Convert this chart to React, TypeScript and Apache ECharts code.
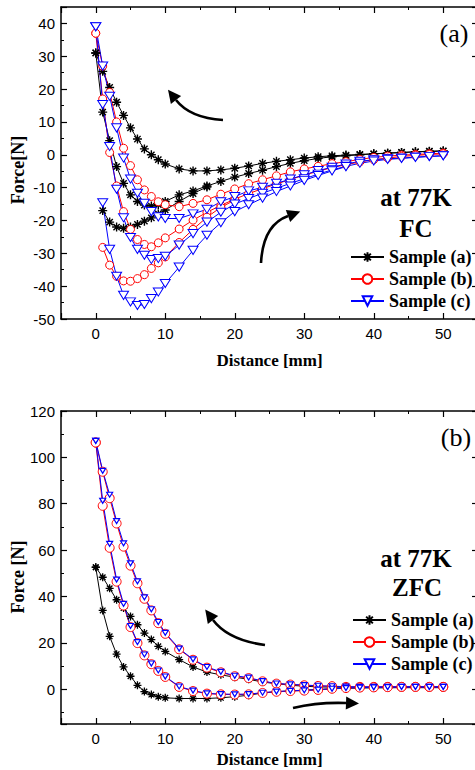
import React, { useEffect, useRef } from "react";
import * as echarts from "echarts";

// ---------- data ----------
const X = [0, 1, 2, 3, 4, 5, 6, 7, 8, 9, 10, 12, 14, 16, 18, 20, 22, 24, 26, 28, 30, 32, 34, 36, 38, 40, 42, 44, 46, 48, 50];

// FC (field cooled)
const fcA_app = [31, 25.4, 20.5, 16, 12, 8.2, 4.8, 1.8, 0, -1.5, -2.8, -4.3, -4.9, -4.9, -4.6, -4.1, -3.4, -2.6, -2.0, -1.5, -1.0, -0.6, -0.3, -0.1, 0.1, 0.3, 0.5, 0.7, 0.9, 1.1, 1.2];
const fcA_wd = [31, 13, 4.3, -3.6, -8.7, -12.2, -14.2, -15.3, -15.6, -15.2, -14.2, -12.2, -11, -9.5, -8.1, -6.8, -5.7, -4.7, -3.6, -2.6, -1.8, -1.1, -0.6, -0.3, 0, 0.3, 0.5, 0.7, 0.9, 1.0, 1.1];
const X_lowA = [1, 2, 3, 4, 5, 6, 7, 8, 9, 10, 12, 14, 16];
const fcA_low = [-17, -20.5, -22, -22.4, -22, -21.2, -20.2, -19.2, -18, -16.8, -14.2, -11.8, -9.8];

const fcB_app = [37, 27, 19, 10, 2, -3.3, -7.6, -10.7, -12.7, -14.3, -15.2, -15.8, -14.8, -13.7, -12, -10.4, -8.8, -7.6, -6.4, -5.2, -4.3, -3.5, -2.7, -2.1, -1.4, -0.8, -0.4, -0.1, 0.1, 0.3, 0.5];
const fcB_wd = [37, 17, 0.7, -9.5, -17.3, -22.7, -25.8, -27.3, -28, -26.8, -25.3, -22.6, -19.9, -17.5, -15.4, -13.5, -11.8, -10.3, -8.9, -7.5, -6.2, -5, -3.9, -3, -2.2, -1.5, -1, -0.5, -0.2, 0.1, 0.3];
const X_lowB = [1, 2, 3, 4, 5, 6, 7, 8, 9, 10, 12, 14, 16, 18, 20];
const fcB_low = [-28.2, -33.6, -37, -38.4, -38.5, -37.7, -36.5, -34.6, -32.9, -31.1, -26.7, -22.7, -19, -16, -13.8];

const fcC_app = [39, 27, 17.8, 8.2, -1, -7.4, -11.7, -14.8, -17.3, -18.9, -19.4, -19.4, -18, -16.6, -14.3, -12.7, -11, -9.9, -8.7, -7.4, -6.1, -4.8, -3.8, -2.8, -2, -1.5, -1.2, -1, -0.7, -0.5, -0.3];
const fcC_wd = [39, 15.3, 2.5, -10.5, -19.2, -25.2, -28.8, -30.6, -31.9, -31.6, -30.9, -27.5, -24, -20.5, -17.5, -15, -13.3, -11.7, -10.2, -8.7, -7.3, -5.9, -4.6, -3.5, -2.6, -1.9, -1.4, -1.1, -0.8, -0.5, -0.3];
const X_lowC = [1, 2, 3, 4, 5, 6, 7, 8, 9, 10, 12, 14, 16, 18, 20, 22, 24, 26, 28, 30, 32, 34, 36];
const fcC_low = [-14.6, -28.8, -37, -42.8, -44.8, -45.9, -45.6, -43.8, -41.8, -39.2, -34.2, -29.1, -24.5, -20.7, -17.3, -15.2, -13.2, -11.2, -9.5, -7.8, -6.3, -4.9, -3.6];

// ZFC (zero field cooled)
const zfcA_app = [52.6, 48.3, 43.5, 38.6, 35, 31.4, 27.8, 24.2, 21.4, 18.5, 16.3, 12.8, 9.6, 7.4, 6.2, 5.2, 4.3, 3.1, 2.4, 1.7, 1.3, 1.0, 0.9, 0.8, 0.8, 0.8, 0.8, 0.7, 0.7, 0.7, 0.7];
const zfcA_wd = [52.6, 34, 22.8, 15.1, 9.6, 5.6, 1.7, -1.0, -2.3, -3.2, -3.7, -4, -4, -4, -3.7, -3.2, -2.6, -1.6, -1.1, -0.7, -0.4, -0.1, 0.2, 0.4, 0.5, 0.6, 0.6, 0.7, 0.7, 0.7, 0.7];
const zfcB_app = [106.4, 93.8, 82.4, 71.5, 61.5, 53.3, 45.7, 39, 34, 28.5, 23.9, 17.2, 12.7, 9.3, 7.3, 5.6, 4.8, 3.4, 2.4, 2, 1.7, 1.4, 1.3, 1.0, 1.0, 1.0, 1.0, 1.0, 1.0, 1.0, 1.0];
const zfcB_wd = [106.4, 79.1, 61, 46.4, 36.1, 26.8, 19.9, 14.6, 10.8, 7.9, 5.3, 1, -0.8, -1.9, -2.2, -2.3, -2.2, -1.6, -1.1, -0.8, -0.6, -0.3, 0.2, 0.5, 0.7, 0.8, 0.9, 1.0, 1.0, 1.0, 1.0];
const zfcC_app = [107.1, 94.2, 83.9, 72.5, 62.9, 54.3, 46.5, 39.6, 34.5, 29, 24.3, 17.5, 12.9, 9.6, 7.5, 5.8, 5.0, 3.5, 2.5, 2.1, 1.8, 1.5, 1.3, 1.1, 1.0, 1.0, 1.0, 1.0, 1.0, 1.0, 1.0];
const zfcC_wd = [107.1, 81.3, 62.7, 47.3, 36.8, 27.3, 20.3, 15, 11.1, 8.1, 5.5, 1.2, -0.6, -1.8, -2.1, -2.2, -2.1, -1.5, -1, -0.7, -0.5, -0.2, 0.2, 0.5, 0.7, 0.8, 0.9, 1.0, 1.0, 1.0, 1.0];

const NAMES = ["Sample (a)", "Sample (b)", "Sample (c)"];
const X_TICK_LABELS = ["0", "10", "20", "30", "40", "50"];

// ---------- styles ----------
const ASTERISK = "path://M5,0L5,10M0,5L10,5M1.5,1.5L8.5,8.5M8.5,1.5L1.5,8.5";
const TRI_DOWN = "path://M0,0L10,0L5,9Z";
const BLACK = "#000000";
const RED = "#ff0000";
const BLUE = "#0000ff";

type Sty = { color: string; symbol: string; size: number | number[]; fill: string; bw: number };
const STY_FC: Sty[] = [
  { color: BLACK, symbol: ASTERISK, size: 9, fill: BLACK, bw: 1.4 },
  { color: RED, symbol: "circle", size: 8, fill: "#ffffff", bw: 1 },
  { color: BLUE, symbol: TRI_DOWN, size: [10, 9], fill: "#ffffff", bw: 1 },
];
const STY_ZFC: Sty[] = [
  { color: BLACK, symbol: ASTERISK, size: 8, fill: BLACK, bw: 1.3 },
  { color: RED, symbol: "circle", size: 9, fill: "#ffffff", bw: 1 },
  { color: BLUE, symbol: TRI_DOWN, size: [6, 5.5], fill: "#ffffff", bw: 1.2 },
];

function mk(name: string, xs: number[], ys: number[], s: Sty, g: number) {
  return {
    type: "line",
    name,
    xAxisIndex: g * 2,
    yAxisIndex: g * 2,
    data: xs.map((x, i) => [x, ys[i]]),
    symbol: s.symbol,
    symbolSize: s.size,
    symbolKeepAspect: true,
    showAllSymbol: true,
    lineStyle: { color: s.color, width: 1 },
    itemStyle: { color: s.fill, borderColor: s.color, borderWidth: s.bw },
    emphasis: { disabled: true },
    z: 2,
  };
}

const TICK_FONT = { fontFamily: "Liberation Sans", fontSize: 15, color: "#000" };

function xAxes(g: number) {
  const base = {
    gridIndex: g,
    type: "value",
    min: -5,
    max: 55,
    splitNumber: 6,
    splitLine: { show: false },
    axisLine: { onZero: false, lineStyle: { color: "#000", width: 1.5 } },
    axisTick: { inside: true, length: 6, lineStyle: { color: "#000", width: 1.2 } },
    minorTick: { show: true, splitNumber: 2, length: 3, lineStyle: { color: "#000", width: 1 } },
  };
  return [
    {
      ...base,
      position: "bottom",
      name: "Distance [mm]",
      nameLocation: "middle",
      nameGap: g === 0 ? 33 : 27,
      nameTextStyle: { fontFamily: "Liberation Serif", fontWeight: "bold", fontSize: 17, color: "#000" },
      axisLabel: {
        ...TICK_FONT,
        margin: 7,
        showMinLabel: false,
        showMaxLabel: false,
        formatter: (v: number) => (X_TICK_LABELS.includes(String(v)) ? String(v) : ""),
      },
    },
    { ...base, position: "top", axisLabel: { show: false } },
  ];
}

function yAxes(g: number, min: number, max: number, split: number) {
  const base = {
    gridIndex: g,
    type: "value",
    min,
    max,
    splitNumber: split,
    splitLine: { show: false },
    axisLine: { onZero: false, lineStyle: { color: "#000", width: 1.5 } },
    axisTick: { inside: true, length: 6, lineStyle: { color: "#000", width: 1.2 } },
    minorTick: { show: true, splitNumber: 2, length: 3, lineStyle: { color: "#000", width: 1 } },
  };
  return [
    {
      ...base,
      position: "left",
      axisLabel: {
        ...TICK_FONT,
        margin: 6,
        showMinLabel: g === 0,
        showMaxLabel: g === 1,
      },
    },
    { ...base, position: "right", axisLabel: { show: false } },
  ];
}

function arrow(x1: number, y1: number, cx: number, cy: number, x2: number, y2: number) {
  const dx = x2 - cx;
  const dy = y2 - cy;
  const len = Math.sqrt(dx * dx + dy * dy);
  const ux = dx / len;
  const uy = dy / len;
  const px = -uy;
  const py = ux;
  const L = 13;
  const W = 6.5;
  return [
    {
      type: "bezierCurve",
      shape: { x1, y1, x2, y2, cpx1: cx, cpy1: cy },
      style: { stroke: "#000", lineWidth: 2.6, fill: null },
      z: 10,
    },
    {
      type: "polygon",
      shape: {
        points: [
          [x2 + ux * L, y2 + uy * L],
          [x2 + px * W, y2 + py * W],
          [x2 - px * W, y2 - py * W],
        ],
      },
      style: { fill: "#000" },
      z: 10,
    },
  ];
}

const serifText = (text: string, x: number, y: number, size: number, bold: boolean, rot = 0) => ({
  type: "text",
  x,
  y,
  rotation: rot,
  z: 20,
  style: {
    text,
    x: 0,
    y: 0,
    align: "center",
    verticalAlign: "middle",
    fontFamily: "Liberation Serif",
    fontWeight: bold ? "bold" : "normal",
    fontSize: size,
    fill: "#000",
  },
});

export default function App() {
  const ref = useRef<HTMLDivElement>(null);
  useEffect(() => {
    if (!ref.current) return;
    const chart = echarts.init(ref.current, null, { renderer: "svg" });
    const zn = (n: string) => n + " ";
    const series = [
      mk(NAMES[0], X, fcA_app, STY_FC[0], 0),
      mk(NAMES[0], X, fcA_wd, STY_FC[0], 0),
      mk(NAMES[0], X_lowA, fcA_low, STY_FC[0], 0),
      mk(NAMES[1], X, fcB_app, STY_FC[1], 0),
      mk(NAMES[1], X, fcB_wd, STY_FC[1], 0),
      mk(NAMES[1], X_lowB, fcB_low, STY_FC[1], 0),
      mk(NAMES[2], X, fcC_app, STY_FC[2], 0),
      mk(NAMES[2], X, fcC_wd, STY_FC[2], 0),
      mk(NAMES[2], X_lowC, fcC_low, STY_FC[2], 0),
      mk(zn(NAMES[0]), X, zfcA_app, STY_ZFC[0], 1),
      mk(zn(NAMES[0]), X, zfcA_wd, STY_ZFC[0], 1),
      mk(zn(NAMES[1]), X, zfcB_app, STY_ZFC[1], 1),
      mk(zn(NAMES[1]), X, zfcB_wd, STY_ZFC[1], 1),
      mk(zn(NAMES[2]), X, zfcC_app, STY_ZFC[2], 1),
      mk(zn(NAMES[2]), X, zfcC_wd, STY_ZFC[2], 1),
    ];
    const legendText = {
      fontFamily: "Liberation Serif",
      fontWeight: "bold",
      fontSize: 18,
      color: "#000",
    };
    chart.setOption({
      animation: false,
      backgroundColor: "#ffffff",
      grid: [
        { left: 61, top: 7, width: 417, height: 312 },
        { left: 61, top: 411, width: 417, height: 313 },
      ],
      xAxis: [...xAxes(0), ...xAxes(1)],
      yAxis: [...yAxes(0, -50, 45, 10), ...yAxes(1, -15, 120, 7)],
      legend: [
        {
          data: NAMES,
          orient: "vertical",
          left: 350,
          top: 248,
          itemWidth: 33,
          itemHeight: 12,
          itemGap: 4,
          padding: 0,
          textStyle: legendText,
          selectedMode: false,
        },
        {
          data: NAMES.map(zn),
          orient: "vertical",
          left: 352,
          top: 611,
          itemWidth: 33,
          itemHeight: 12,
          itemGap: 4,
          padding: 0,
          textStyle: legendText,
          selectedMode: false,
          formatter: (n: string) => n.trim(),
        },
      ],
      graphic: [
        serifText("Force[N]", 18, 170, 18, true, Math.PI / 2),
        serifText("Force [N]", 18, 577, 18, true, Math.PI / 2),
        serifText("(a)", 454, 33, 26, false),
        serifText("(b)", 456, 437, 26, false),
        serifText("at 77K", 416, 197, 25, true),
        serifText("FC", 416, 228, 25, true),
        serifText("at 77K", 416, 558, 25, true),
        serifText("ZFC", 417, 587, 25, true),
        ...arrow(223, 120, 190, 118, 176, 100),
        ...arrow(261, 263, 263, 225, 288, 216),
        ...arrow(265, 645, 228, 640, 213, 620),
        ...arrow(293, 708, 318, 702, 346, 703),
      ],
      series,
    });
    return () => chart.dispose();
  }, []);
  return (
    <div style={{ position: "absolute", left: 0, top: 0, width: 475, height: 770, overflow: "hidden", background: "#fff" }}>
      <div ref={ref} style={{ width: 490, height: 770 }} />
    </div>
  );
}
